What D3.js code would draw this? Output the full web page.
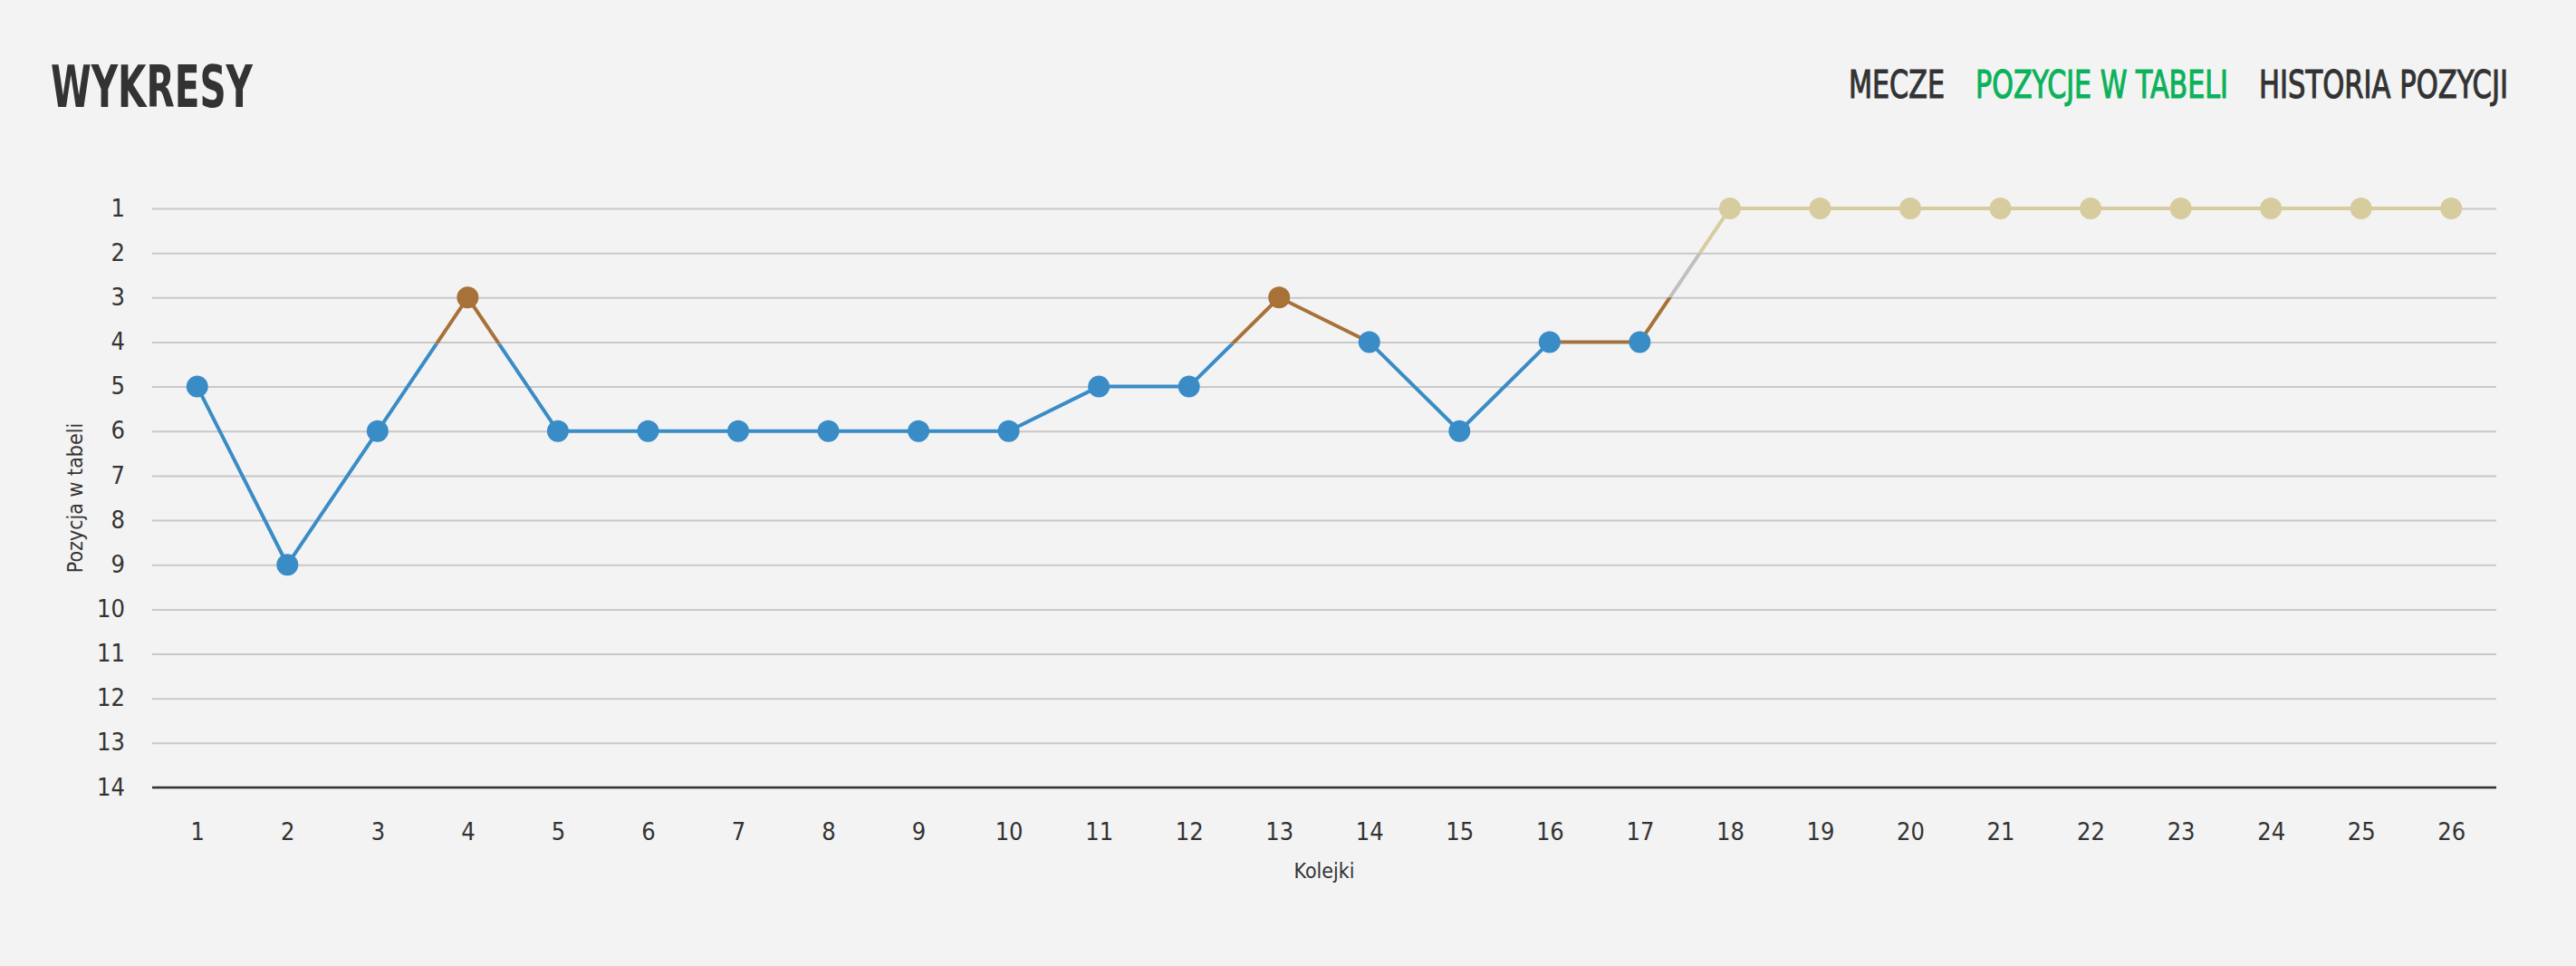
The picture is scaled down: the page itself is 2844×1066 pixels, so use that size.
<!DOCTYPE html>
<html>
<head>
<meta charset="utf-8">
<title>Wykresy</title>
<script src="https://cdn.jsdelivr.net/npm/d3@7"></script>
<style>
  html, body { margin: 0; padding: 0; background: #f3f3f3; }
  svg { display: block; }
  text { font-family: 'Liberation Sans Narrow', 'DejaVu Sans Condensed', 'Roboto', sans-serif; fill: #333; }
</style>
</head>
<body>
<svg id="chart" width="2844" height="1066"></svg>
<script>
(function () {
  'use strict';

  // kolejki (rounds) and table position after each round
  var rounds = d3.range(1, 27);
  var positions = [5, 9, 6, 3, 6, 6, 6, 6, 6, 6, 5, 5, 3, 4, 6, 4, 4, 1, 1, 1, 1, 1, 1, 1, 1, 1];
  var yTicks = d3.range(1, 15);

  // colour zones by position: below each limit the matching colour applies
  var zoneLimits = [2, 3, 4, 15];
  var zoneColors = ['#d7cc9e', '#c0c0c0', '#a87137', '#3a8cc7'];

  var navItems = ['MECZE', 'POZYCJE W TABELI', 'HISTORIA POZYCJI'];
  var navColors = ['#333333', '#0bb25a', '#333333'];

  var svg = d3.select('#chart'),
    left = 168,
    right = 2756,
    top = 230,
    bottom = 869;

  var x = d3.scalePoint().domain(rounds).range([left, right]).padding(0.5);
  var y = d3.scaleLinear().domain([1, 14]).range([top, bottom]);

  var points = rounds.map(function (r, i) {
    return { round: r, pos: positions[i] };
  });

  function zoneOf(v) {
    for (var i = 0; i < zoneLimits.length; i++) {
      if (v < zoneLimits[i]) return i;
    }
    return zoneLimits.length - 1;
  }

  // squeeze a text horizontally so it spans the given width (condensed look)
  function fitText(t, tx, ty, width) {
    var w = t.node().getComputedTextLength();
    t.attr('transform', 'translate(' + tx + ',' + ty + ') scale(' + (width / w) + ',1)');
  }

  // title + navigation
  var title = svg.append('text')
    .attr('font-size', 64)
    .attr('font-weight', 'bold')
    .text('WYKRESY');
  fitText(title, 56, 118, 223);

  var navX = [2041, 2181, 2494],
    navW = [106, 279, 275];

  svg.selectAll('text.nav').data(navItems).enter().append('text')
    .attr('class', 'nav')
    .attr('font-size', 43)
    .style('fill', function (d, i) { return navColors[i]; })
    .style('stroke', function (d, i) { return navColors[i]; })
    .style('stroke-width', 1.1)
    .text(function (d) { return d; })
    .each(function (d, i) {
      fitText(d3.select(this), navX[i], 108, navW[i]);
    });

  // y axis with grid lines
  var yAxis = svg.append('g')
    .attr('font-family', null)
    .attr('transform', 'translate(' + left + ',0)')
    .call(d3.axisLeft(y).tickValues(yTicks).tickSize(-(right - left)).tickPadding(30));

  yAxis.select('.domain').remove();
  yAxis.selectAll('.tick line')
    .attr('stroke', '#c8c8c8')
    .attr('stroke-width', 2);
  yAxis.selectAll('.tick text')
    .attr('font-size', 27)
    .attr('dy', '0.3em');

  // x axis
  var xAxis = svg.append('g')
    .attr('font-family', null)
    .attr('transform', 'translate(0,' + bottom + ')')
    .call(d3.axisBottom(x).tickSize(0).tickPadding(58));

  xAxis.select('.domain')
    .attr('d', 'M' + left + ',0H' + right)
    .attr('stroke', '#333')
    .attr('stroke-width', 2.5);
  xAxis.selectAll('.tick text')
    .attr('font-size', 27)
    .attr('dy', '0');

  // axis titles
  svg.append('text')
    .attr('transform', 'translate(91,' + ((top + bottom) / 2) + ') rotate(-90)')
    .attr('text-anchor', 'middle')
    .attr('font-size', 23)
    .text('Pozycja w tabeli');

  svg.append('text')
    .attr('x', (left + right) / 2)
    .attr('y', 969)
    .attr('text-anchor', 'middle')
    .attr('font-size', 23)
    .text('Kolejki');

  // clip one band per colour zone
  var defs = svg.append('defs');
  zoneLimits.forEach(function (lim, i) {
    var y0 = i === 0 ? 0 : y(zoneLimits[i - 1]),
      y1 = i === zoneLimits.length - 1 ? 1066 : y(lim);
    if (i === 2) y1 += 2;
    if (i === 3) y0 += 2;
    defs.append('clipPath')
      .attr('id', 'zone' + i)
      .append('rect')
      .attr('x', 0)
      .attr('y', y0)
      .attr('width', 2844)
      .attr('height', y1 - y0);
  });

  var line = d3.line()
    .x(function (d) { return x(d.round); })
    .y(function (d) { return y(d.pos); });

  zoneColors.forEach(function (c, i) {
    svg.append('path')
      .datum(points)
      .attr('clip-path', 'url(#zone' + i + ')')
      .attr('fill', 'none')
      .attr('stroke', c)
      .attr('stroke-width', 4)
      .attr('stroke-linejoin', 'round')
      .attr('d', line);
  });

  svg.selectAll('circle.dot').data(points).enter().append('circle')
    .attr('class', 'dot')
    .attr('cx', function (d) { return x(d.round); })
    .attr('cy', function (d) { return y(d.pos); })
    .attr('r', 12)
    .attr('fill', function (d) { return zoneColors[zoneOf(d.pos)]; });
})();
</script>
</body>
</html>
